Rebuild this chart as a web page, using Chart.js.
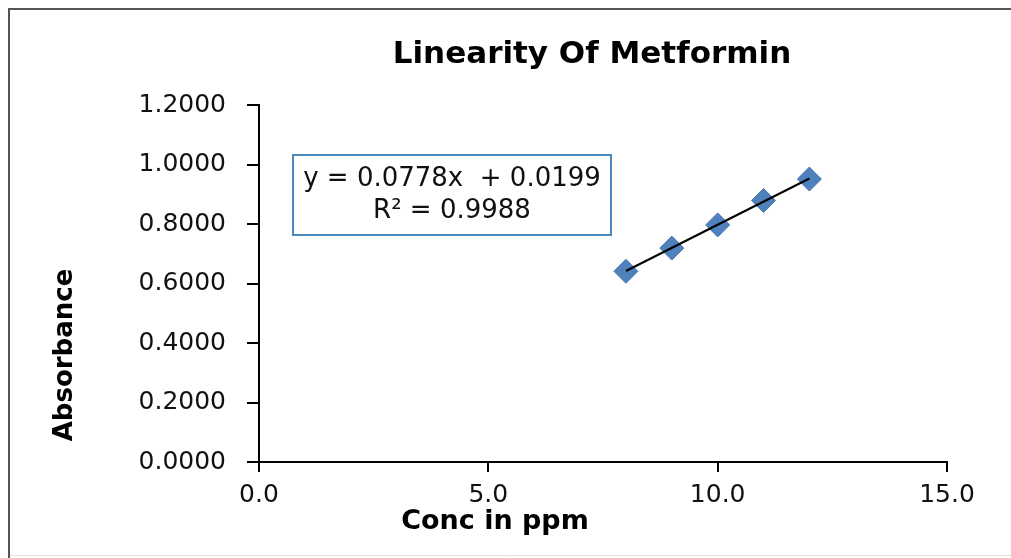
<!DOCTYPE html>
<html>
<head>
<meta charset="utf-8">
<script src="https://cdn.jsdelivr.net/npm/chart.js@4.4.1/dist/chart.umd.min.js"></script>
<style>
  html, body { margin: 0; background: #fff; overflow: hidden; }
  canvas { display: block; }
</style>
</head>
<body>
<canvas id="grafico" width="1011" height="558"></canvas>
<script>
// datos
let concPpm = [8, 9, 10, 11, 12];
let absorbancia = [0.641, 0.719, 0.797, 0.879, 0.951];
let trendX = [8, 12];
let trendY = [0.642, 0.953];
let yTicks = [0, 0.2, 0.4, 0.6, 0.8, 1.0, 1.2];
let xTicks = [0, 5, 10, 15];

let titulo = 'Linearity Of Metformin';
let tituloX = 'Conc in ppm';
let tituloY = 'Absorbance';
let ecuacion = 'y = 0.0778x  + 0.0199';
let r2 = 'R\u00b2 = 0.9988';

const fuente = '"DejaVu Sans", Arial, sans-serif';

const textos = {
    id: 'textos',
    afterDraw(chart) {
        let ctx = chart.ctx;
        ctx.save();
        // marco exterior (solo arriba, izquierda y abajo)
        ctx.strokeStyle = '#555';
        ctx.lineWidth = 2;
        ctx.beginPath();
        ctx.moveTo(1011, 9);
        ctx.lineTo(9, 9);
        ctx.lineTo(9, 558);
        ctx.stroke();
        ctx.strokeStyle = '#e2e2e2';
        ctx.lineWidth = 1;
        ctx.beginPath();
        ctx.moveTo(10, 555.5);
        ctx.lineTo(1011, 555.5);
        ctx.stroke();

        ctx.fillStyle = '#000';
        ctx.textAlign = 'center';
        ctx.textBaseline = 'middle';

        ctx.font = 'bold 31px ' + fuente;
        ctx.fillText(titulo, 592, 55);

        ctx.font = 'bold 27px ' + fuente;
        ctx.fillText(tituloX, 495, 522);

        ctx.save();
        ctx.translate(65, 355);
        ctx.rotate(-Math.PI / 2);
        ctx.font = 'bold 26px ' + fuente;
        ctx.fillText(tituloY, 0, 0);
        ctx.restore();

        // cuadro de la ecuacion
        ctx.fillStyle = '#fff';
        ctx.fillRect(293, 155, 318, 80);
        ctx.strokeStyle = '#4a8cc2';
        ctx.lineWidth = 2;
        ctx.strokeRect(293, 155, 318, 80);
        ctx.fillStyle = '#111';
        ctx.font = '26px ' + fuente;
        ctx.fillText(ecuacion, 452, 179);
        ctx.fillText(r2, 452, 211);
        ctx.restore();
    }
};

let ctx = document.getElementById('grafico').getContext('2d');
let chartLinealidad = new Chart(ctx, {
    type: 'scatter',
    data: {
        datasets: [{
            label: 'Absorbance',
            data: concPpm.map(function(x, i) { return { x: x, y: absorbancia[i] }; }),
            pointStyle: 'rectRot',
            pointRadius: 12,
            pointBackgroundColor: '#4f81bd',
            pointBorderColor: '#4575b0',
            pointBorderWidth: 1,
            showLine: false,
            order: 2
        }, {
            label: 'Linear',
            type: 'line',
            data: trendX.map(function(x, i) { return { x: x, y: trendY[i] }; }),
            borderColor: '#000',
            borderWidth: 2,
            pointRadius: 0,
            fill: false,
            order: 1
        }]
    },
    options: {
        responsive: false,
        animation: false,
        layout: { padding: { top: 105, right: 64, left: 0, bottom: 0 } },
        plugins: {
            legend: { display: false },
            title: { display: false },
            tooltip: { enabled: false }
        },
        scales: {
            x: {
                type: 'linear',
                min: 0,
                max: 15,
                afterFit: function(s) { s.height = 96; },
                afterBuildTicks: function(s) { s.ticks = xTicks.map(function(v) { return { value: v }; }); },
                grid: { display: true, drawOnChartArea: false, drawTicks: true, tickLength: 10, color: '#000', lineWidth: 2 },
                border: { display: true, color: '#000', width: 2 },
                ticks: {
                    color: '#111',
                    font: { family: fuente, size: 25 },
                    padding: 8,
                    maxRotation: 0,
                    callback: function(v) { return Number(v).toFixed(1); }
                }
            },
            y: {
                type: 'linear',
                min: 0,
                max: 1.2,
                afterFit: function(s) { s.width = 259; },
                afterBuildTicks: function(s) { s.ticks = yTicks.map(function(v) { return { value: v }; }); },
                grid: { display: true, drawOnChartArea: false, drawTicks: true, tickLength: 12, color: '#000', lineWidth: 2 },
                border: { display: true, color: '#000', width: 2 },
                ticks: {
                    color: '#111',
                    font: { family: fuente, size: 25 },
                    padding: 21,
                    callback: function(v) { return Number(v).toFixed(4); }
                }
            }
        }
    },
    plugins: [textos]
});
</script>
</body>
</html>
